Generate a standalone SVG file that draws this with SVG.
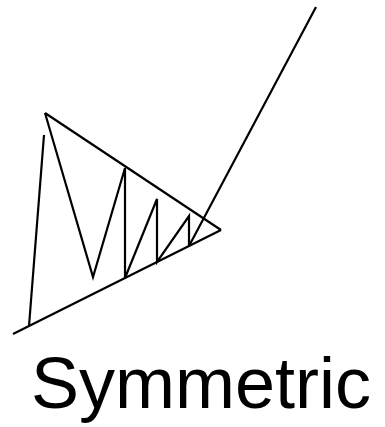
<svg xmlns="http://www.w3.org/2000/svg" width="385" height="427" viewBox="0 0 385 427">
<style>
.ln{fill:none;stroke:#000;stroke-width:2.2;stroke-linejoin:miter;stroke-linecap:butt}
.lbl{font-family:"Liberation Sans",Arial,sans-serif;font-size:72px;fill:#000}
</style>
<rect width="385" height="427" fill="#fff"/>
<g id="connectors">
<line class="ln" x1="45" y1="113" x2="221" y2="230"/>
<line class="ln" x1="13" y1="334" x2="221" y2="230"/>
<line class="ln" x1="44" y1="135" x2="29" y2="326"/>
<polyline class="ln" points="45,113 93,277 125,168 125,278 157,199 157,262 189,216 189,246 316,7"/>
</g>
<g id="label">
<text class="lbl" x="31" y="408">Symmetric</text>
</g>
</svg>
